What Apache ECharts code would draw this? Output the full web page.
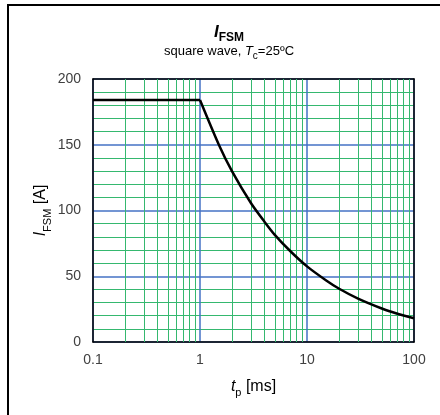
<!DOCTYPE html>
<html>
<head>
<meta charset="utf-8">
<script src="https://cdn.jsdelivr.net/npm/echarts@6/dist/echarts.min.js"></script>
<style>html,body{margin:0;padding:0;background:#fff;}#c{width:440px;height:415px;}</style>
</head>
<body>
<div id="c"></div>
<script>
// Data
const flatTp = [0.1, 1];
const flatIfsm = [184, 184];
const decayTp = [1, 1.5, 2, 3, 4, 5, 7, 10, 15, 20, 30, 50, 70, 100];
const decayIfsm = [184, 150, 129.5, 105.5, 91.5, 81.5, 69, 57.5, 47, 40.5, 33, 25.5, 21.5, 18];
const xMinorTicks = [0.2,0.3,0.4,0.5,0.6,0.7,0.8,0.9,2,3,4,5,6,7,8,9,20,30,40,50,60,70,80,90];
const yTicks = [0, 50, 100, 150, 200];

const GREEN = '#35b86f';
const BLUE = '#4472c4';
const FONT = '"Liberation Sans", Arial, sans-serif';

const chart = echarts.init(document.getElementById('c'), null, {renderer: 'canvas'});
chart.setOption({
  animation: false,
  backgroundColor: '#fff',
  textStyle: {fontFamily: FONT},
  graphic: [{
    type: 'rect', z: 100, silent: true,
    shape: {x: 8, y: 5, width: 600, height: 600},
    style: {fill: 'none', stroke: '#000', lineWidth: 2}
  }],
  title: {
    left: 224, top: 18, textAlign: 'center',
    text: '{i|I}{s|FSM}',
    subtext: '{n|square wave, }{i|T}{s|c}{n|=25ºC}',
    itemGap: 0,
    textStyle: {
      rich: {
        i: {fontFamily: FONT, fontSize: 17, fontWeight: 'bold', fontStyle: 'italic', color: '#000', lineHeight: 18, verticalAlign: 'bottom'},
        s: {fontFamily: FONT, fontSize: 12, fontWeight: 'bold', color: '#000', lineHeight: 12, verticalAlign: 'bottom', padding: [0,0,-3,0]}
      }
    },
    subtextStyle: {
      rich: {
        n: {fontFamily: FONT, fontSize: 13, color: '#000', lineHeight: 15, verticalAlign: 'bottom'},
        i: {fontFamily: FONT, fontSize: 13, fontStyle: 'italic', color: '#000', lineHeight: 15, verticalAlign: 'bottom'},
        s: {fontFamily: FONT, fontSize: 10, color: '#000', lineHeight: 10, verticalAlign: 'bottom', padding: [0,0,-3,0]}
      }
    }
  },
  grid: {left: 93, right: 26, top: 79, bottom: 73, show: false},
  xAxis: [{
    type: 'log', logBase: 10, min: 0.1, max: 100,
    axisLine: {show: true, onZero: false, lineStyle: {color: '#000', width: 1.5}},
    axisTick: {show: false},
    axisLabel: {margin: 11, fontSize: 14, color: '#404040', fontFamily: FONT,
      formatter: function (v) { return String(+v.toPrecision(3)); }},
    splitLine: {show: true, lineStyle: {color: BLUE, width: 1.5}},
    name: '{i|t}{s|p}{n| [ms]}',
    nameLocation: 'middle', nameGap: 35, nameMoveOverlap: false,
    nameTextStyle: {rich: {
      i: {fontFamily: FONT, fontSize: 16, fontStyle: 'italic', color: '#000', lineHeight: 18, verticalAlign: 'bottom'},
      s: {fontFamily: FONT, fontSize: 11, color: '#000', lineHeight: 11, verticalAlign: 'bottom', padding: [0,0,-3,0]},
      n: {fontFamily: FONT, fontSize: 16, color: '#000', lineHeight: 18, verticalAlign: 'bottom'}
    }}
  }, {
    type: 'log', logBase: 10, min: 0.1, max: 100, position: 'top',
    axisLine: {show: true, onZero: false, lineStyle: {color: '#000', width: 1.5}},
    axisTick: {show: false}, axisLabel: {show: false}, splitLine: {show: false}
  }],
  yAxis: [{
    type: 'value', min: 0, max: 200, interval: 50,
    axisLine: {show: true, onZero: false, lineStyle: {color: '#000', width: 1.5}},
    axisTick: {show: false},
    axisLabel: {margin: 12, fontSize: 14, color: '#404040', fontFamily: FONT,
      customValues: yTicks},
    splitLine: {show: true, lineStyle: {color: BLUE, width: 1.5}},
    minorTick: {show: false, splitNumber: 5},
    minorSplitLine: {show: true, lineStyle: {color: GREEN, width: 1}},
    name: '{i|I}{s|FSM}{n| [A]}',
    nameLocation: 'middle', nameGap: 44, nameRotate: 90, nameMoveOverlap: false,
    nameTextStyle: {rich: {
      i: {fontFamily: FONT, fontSize: 16, fontStyle: 'italic', color: '#000', lineHeight: 18, verticalAlign: 'bottom'},
      s: {fontFamily: FONT, fontSize: 11, color: '#000', lineHeight: 11, verticalAlign: 'bottom', padding: [0,0,-4,0]},
      n: {fontFamily: FONT, fontSize: 16, color: '#000', lineHeight: 18, verticalAlign: 'bottom'}
    }}
  }, {
    type: 'value', min: 0, max: 200, interval: 50, position: 'right',
    axisLine: {show: true, onZero: false, lineStyle: {color: '#000', width: 1.5}},
    axisTick: {show: false}, axisLabel: {show: false}, splitLine: {show: false}
  }],
  series: [{
    type: 'line', xAxisIndex: 0, yAxisIndex: 0, data: [], z: 1, silent: true,
    markLine: {
      silent: true, symbol: 'none', animation: false,
      label: {show: false},
      lineStyle: {color: GREEN, width: 1, type: 'solid'},
      data: xMinorTicks.map(v => ({xAxis: v}))
    }
  }, {
    type: 'line', xAxisIndex: 0, yAxisIndex: 0, z: 5,
    data: flatTp.map((t, i) => [t, flatIfsm[i]]),
    showSymbol: false, symbol: 'none',
    lineStyle: {color: '#000', width: 2.5}
  }, {
    type: 'line', xAxisIndex: 0, yAxisIndex: 0, z: 5,
    data: decayTp.map((t, i) => [t, decayIfsm[i]]),
    smooth: 0.25, showSymbol: false, symbol: 'none',
    lineStyle: {color: '#000', width: 2.5}
  }]
});
</script>
</body>
</html>
